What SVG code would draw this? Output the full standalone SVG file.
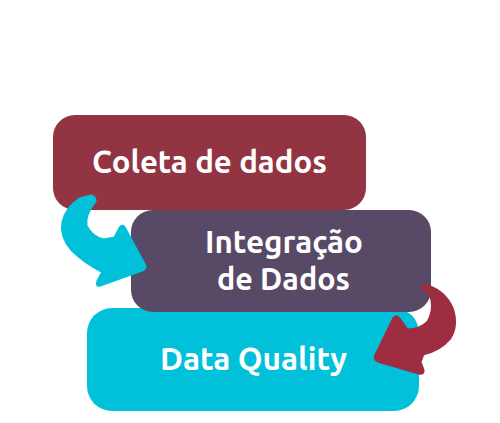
<svg xmlns="http://www.w3.org/2000/svg" width="500" height="423" viewBox="0 0 500 423">
<style>
.lbl{font-family:"Ubuntu","Lato","Open Sans",sans-serif;font-weight:700;font-size:31px;fill:#ffffff;text-anchor:middle}
</style>
<rect width="500" height="423" fill="#ffffff"/>
<g id="node-quality">
<rect x="87" y="308" width="332" height="103" rx="25" fill="#00C1D9"/>
<text class="lbl" x="253.5" y="370" textLength="187" lengthAdjust="spacingAndGlyphs">Data Quality</text>
</g>
<g id="node-integracao">
<rect x="131" y="210" width="300" height="102" rx="22" fill="#584A66"/>
<text class="lbl" x="284" y="253" textLength="158" lengthAdjust="spacingAndGlyphs">Integração</text>
<text class="lbl" x="283.5" y="290" textLength="133" lengthAdjust="spacingAndGlyphs">de Dados</text>
</g>
<g id="node-coleta">
<rect x="53" y="115" width="313" height="95" rx="22" fill="#933443"/>
<text class="lbl" x="209.5" y="173" textLength="235" lengthAdjust="spacingAndGlyphs">Coleta de dados</text>
</g>
<g id="connectors" stroke-linejoin="round" stroke-width="3">
<path d="M91,196 Q95,197 95,201 Q84,215 86,226 Q92,238 104,240 L115,238 L120,228 Q123,224 125,229 L145,266 Q145,269 142,270 L100,285 Q96,286 98,281 L103,272 Q84,262 72,250 Q60,236 63,222 Q66,208 80,199 Z" fill="#00C1D9" stroke="#00C1D9"/>
<path d="M424,285 Q444,290 452,308 Q458,325 450,338 Q440,350 423,354 L420,362 L423,370 Q424,374 419,373 L378,361 Q374,359 376,355 L394,318 Q397,315 399,319 L407,330 Q420,330 428,322 Q434,312 432,300 Q430,292 422,288 Z" fill="#9E2D42" stroke="#9E2D42"/>
</g>
</svg>
